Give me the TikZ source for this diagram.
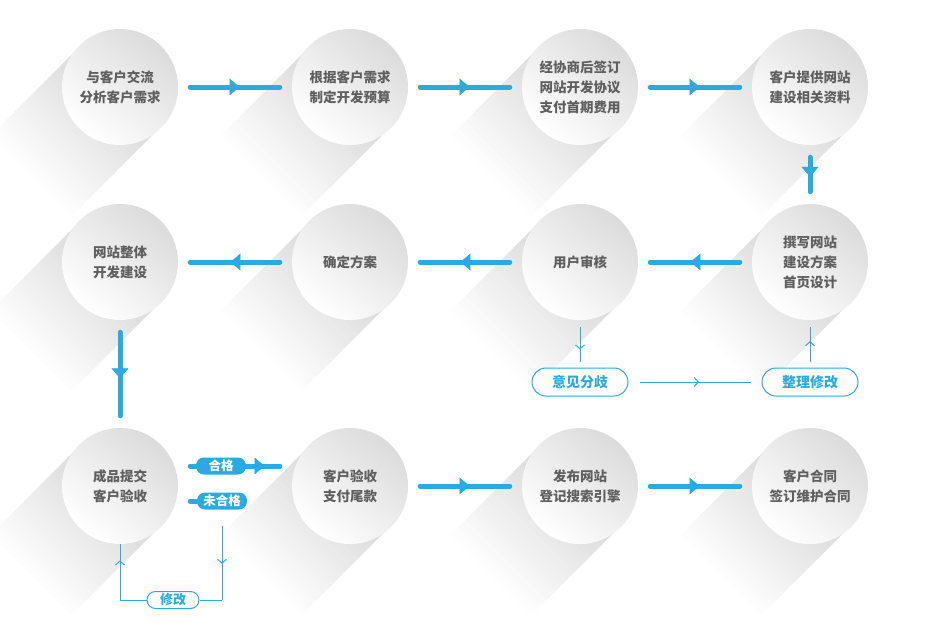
\documentclass[tikz,border=0pt]{standalone}
\usepackage{fontspec}
\setmainfont{Noto Sans CJK SC}
\usetikzlibrary{arrows.meta,positioning,decorations.markings,backgrounds}
\definecolor{flowblue}{HTML}{29ABE2}
\definecolor{txtgray}{HTML}{5F5F5F}

\tikzset{
  stage/.style={circle, minimum size=116pt, inner sep=0pt, align=center, text=txtgray,
    font=\bfseries\fontsize{13.5}{20}\selectfont,
    shading=axis, top color=black!14, bottom color=white, shading angle=-40},
  flow/.style={draw=flowblue, line width=5pt, line cap=round, shorten <=12pt, shorten >=12pt,
    postaction={decorate}, decoration={markings, mark=at position #1 with
      {\arrow[flowblue]{Triangle[length=10pt,width=17pt,line width=0.5pt]}}}},
  flow/.default=0.54,
  link/.style={draw=flowblue, line width=1pt},
  linkarrow/.style={link, postaction={decorate}, decoration={markings, mark=at position #1 with
      {\arrow[flowblue]{Straight Barb[length=4pt,width=9pt]}}}},
  note/.style={draw=flowblue, line width=1pt, fill=white, rounded corners=14pt, minimum width=96pt,
    minimum height=28pt, inner sep=0pt, text=flowblue, font=\bfseries\fontsize{14}{14}\selectfont},
  smallnote/.style={note, rounded corners=8.5pt, minimum width=52pt, minimum height=17pt,
    font=\bfseries\fontsize{13}{13}\selectfont},
  tag/.style={fill=flowblue, text=white, rounded corners=8pt, minimum width=50pt, minimum height=17pt,
    inner xsep=4pt, inner ysep=0pt, font=\bfseries\fontsize{12.5}{12.5}\selectfont}
}

\begin{document}
\begin{tikzpicture}[x=1pt, y=-1pt]
    \useasboundingbox (0,0) rectangle (925,637);

    \node[stage] (talk)     at (120,87)  {与客户交流\\分析客户需求};
    \node[stage] (budget)   at (350,87)  {根据客户需求\\制定开发预算};
    \node[stage] (sign)     at (580,87)  {经协商后签订\\网站开发协议\\支付首期费用};
    \node[stage] (data)     at (810,87)  {客户提供网站\\建设相关资料};
    \node[stage] (plan)     at (810,262) {撰写网站\\建设方案\\首页设计};
    \node[stage] (review)   at (580,262) {用户审核};
    \node[stage] (confirm)  at (350,262) {确定方案};
    \node[stage] (build)    at (120,262) {网站整体\\开发建设};
    \node[stage] (submit)   at (120,486) {成品提交\\客户验收};
    \node[stage] (accept)   at (350,486) {客户验收\\支付尾款};
    \node[stage] (publish)  at (580,486) {发布网站\\登记搜索引擎};
    \node[stage] (contract) at (810,486) {客户合同\\签订维护合同};

    \begin{scope}[on background layer]
        \fill[white] (0,0) rectangle (925,637);
        \foreach \n in {talk,budget,sign,data,plan,review,confirm,build,submit,accept,publish,contract}{
            \begin{scope}[shift={(\n.center)}, rotate=45, x=1pt, y=1pt]
                \foreach \i in {0,...,24}{
                    \pgfmathsetmacro\shadeval{15*(1-\i/25)}
                    \fill[black!\shadeval] (-5*\i-5.6,-57) rectangle (-5*\i,57);
                }
            \end{scope}
        }
    \end{scope}

    \draw[flow] (talk) -- (budget);
    \draw[flow] (budget) -- (sign);
    \draw[flow] (sign) -- (data);
    \draw[flow] (data) -- (plan);
    \draw[flow] (plan) -- (review);
    \draw[flow] (review) -- (confirm);
    \draw[flow] (confirm) -- (build);
    \draw[flow] (build) -- (submit);
    \draw[flow] (accept) -- (publish);
    \draw[flow] (publish) -- (contract);

    \node[note] (diff)   at (580,382) {意见分歧};
    \node[note] (revise) at (810,382) {整理修改};
    \draw[linkarrow=0.62, shorten <=7pt, shorten >=6pt] (review) -- (diff);
    \draw[linkarrow=0.53, shorten <=11pt, shorten >=11pt] (diff) -- (revise);
    \draw[linkarrow=0.56, shorten <=6pt, shorten >=7pt] (revise) -- (plan);

    \draw[flow=0.76] ([yshift=20pt]submit.east) -- ([yshift=20pt]accept.west);
    \node[tag] (pass) at (221,466) {合格};
    \node[tag] (fail) at (222,501) {未合格};
    \draw[draw=flowblue, line width=5pt, line cap=round, shorten <=12pt] ([yshift=-15pt]submit.east) -- (fail.west);

    \node[smallnote] (fix) at (173,600) {修改};
    \coordinate (turnR) at (fail.south |- fix);
    \coordinate (turnL) at (submit.south |- fix);
    \draw[linkarrow=0.6, shorten <=16pt] (fail.south) -- (turnR);
    \draw[link] (turnR) -- (fix.east);
    \draw[link] (fix.west) -- (turnL);
    \draw[linkarrow=0.71] (turnL) -- (submit.south);
\end{tikzpicture}
\end{document}
